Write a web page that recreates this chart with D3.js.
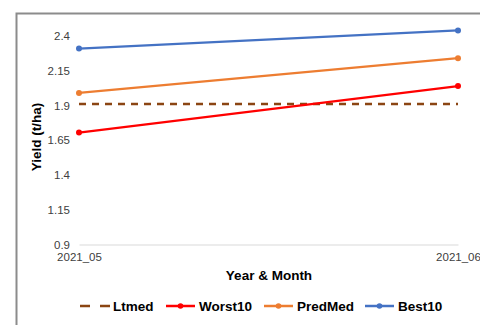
<!DOCTYPE html>
<html>
<head>
<meta charset="utf-8">
<script src="https://cdn.jsdelivr.net/npm/d3@7"></script>
<style>
  html, body { margin: 0; padding: 0; background: #fff; }
  svg { display: block; font-family: "Liberation Sans", Arial, sans-serif; }
</style>
</head>
<body>
<svg id="chart" width="480" height="325"></svg>
<script>
// Months on the x axis
const months = ["2021_05", "2021_06"];
// Yield series (t/ha)
const ltmed = [1.91, 1.91];
const worst10 = [1.705, 2.04];
const predMed = [1.99, 2.24];
const best10 = [2.31, 2.44];
// Y tick values
const yTicks = [0.9, 1.15, 1.4, 1.65, 1.9, 2.15, 2.4];

const series = [
  { name: "Ltmed", values: ltmed, color: "#8B4513", dash: "7,6", markers: false },
  { name: "Worst10", values: worst10, color: "#FF0000", dash: null, markers: true },
  { name: "PredMed", values: predMed, color: "#ED7D31", dash: null, markers: true },
  { name: "Best10", values: best10, color: "#4472C4", dash: null, markers: true }
];

const svg = d3.select("#chart");

// Outer frame
svg.append("path")
  .attr("d", "M16.5,330 V13.5 H490")
  .attr("fill", "none")
  .attr("stroke", "#8c8c8c")
  .attr("stroke-width", 2);

const x = d3.scalePoint().domain(months).range([79, 458]);
const y = d3.scaleLinear().domain([0.9, 2.4]).range([244.5, 36]);

// Y axis labels (no axis line)
const yAxis = svg.append("g").attr("transform", "translate(70,0)")
  .call(d3.axisLeft(y).tickValues(yTicks).tickSize(0).tickPadding(0).tickFormat(d3.format("")));
yAxis.select(".domain").remove();
yAxis.selectAll("text").attr("font-size", 11.5).attr("fill", "#404040")
  .attr("font-family", "Liberation Sans, Arial, sans-serif");

// X axis
const xAxis = svg.append("g").attr("transform", `translate(0,${y(0.9)})`)
  .call(d3.axisBottom(x).tickSize(0).tickPadding(8));
xAxis.select(".domain").attr("stroke", "#d9d9d9").attr("stroke-width", 1);
xAxis.selectAll("text").attr("font-size", 11.5).attr("fill", "#404040")
  .attr("font-family", "Liberation Sans, Arial, sans-serif");

// Axis titles
svg.append("text")
  .attr("transform", "translate(41,137) rotate(-90)")
  .attr("text-anchor", "middle")
  .attr("font-size", 13.5).attr("font-weight", "bold").attr("fill", "#000")
  .text("Yield (t/ha)");
svg.append("text")
  .attr("x", 269).attr("y", 280)
  .attr("text-anchor", "middle")
  .attr("font-size", 13.5).attr("font-weight", "bold").attr("fill", "#000")
  .text("Year & Month");

// Series lines and markers
const line = d3.line().x((d, i) => x(months[i])).y(d => y(d));
series.forEach(s => {
  svg.append("path")
    .datum(s.values)
    .attr("d", line)
    .attr("fill", "none")
    .attr("stroke", s.color)
    .attr("stroke-width", s.dash ? 2.5 : 2.25)
    .attr("stroke-dasharray", s.dash);
  if (s.markers) {
    svg.selectAll(null).data(s.values).enter().append("circle")
      .attr("cx", (d, i) => x(months[i]))
      .attr("cy", d => y(d))
      .attr("r", 3)
      .attr("fill", s.color);
  }
});

// Legend
const legendX = [80, 166, 264, 365];
const legend = svg.append("g").attr("transform", "translate(0,306)");
series.forEach((s, i) => {
  const g = legend.append("g").attr("transform", `translate(${legendX[i]},0)`);
  g.append("line")
    .attr("x1", 0).attr("x2", s.dash ? 30 : 29).attr("y1", 0).attr("y2", 0)
    .attr("stroke", s.color).attr("stroke-width", 2.5)
    .attr("stroke-dasharray", s.dash ? "10,10" : null);
  if (s.markers) {
    g.append("circle").attr("cx", 14.5).attr("cy", 0).attr("r", 2.8).attr("fill", s.color);
  }
  g.append("text")
    .attr("x", 33).attr("y", 5)
    .attr("font-size", 13.5).attr("font-weight", "bold").attr("fill", "#000")
    .text(s.name);
});
</script>
</body>
</html>
